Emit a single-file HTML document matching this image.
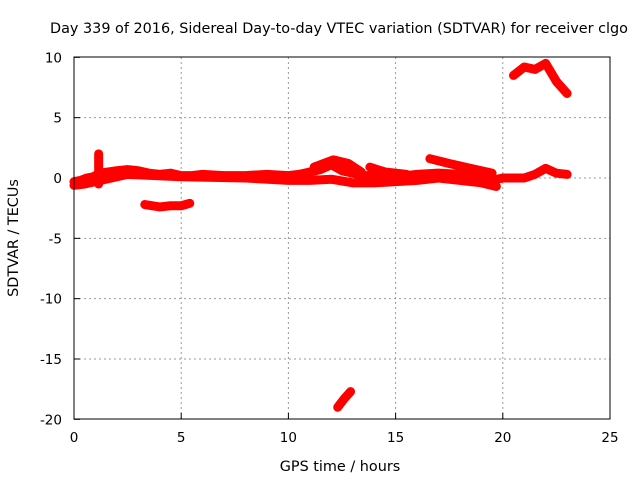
<!DOCTYPE html>
<html><head><meta charset="utf-8"><style>
body{margin:0;background:#fff;}
svg{display:block;font-family:"DejaVu Sans","Liberation Sans",sans-serif;}
</style></head><body>
<svg id="chart" width="640" height="480">
<text x="339" y="33" font-size="14.4" text-anchor="middle">Day 339 of 2016, Sidereal Day-to-day VTEC variation (SDTVAR) for receiver clgo</text>
<text x="340" y="471" font-size="14.4" text-anchor="middle">GPS time / hours</text>
<text transform="translate(18,238) rotate(-90)" font-size="14.4" text-anchor="middle">SDTVAR / TECUs</text>
<g id="grid"></g><g id="marks"></g>
<rect x="74" y="57" width="536" height="362" fill="none" stroke="#000" stroke-width="1"/>
</svg>
<script>
const xTicks=[0,5,10,15,20,25];
const yTicks=[10,5,0,-5,-10,-15,-20];
const segMain=[[0,-0.3],[0.3,-0.2],[0.6,0],[0.9,0.1],[1.2,0.4],[1.6,0.5],[2,0.6],[2.5,0.7],[3,0.6],[3.5,0.4],[4,0.3],[4.5,0.4],[5,0.2],[5.5,0.2],[6,0.3],[7,0.2],[8,0.2],[9,0.3],[10,0.2],[10.5,0.3],[11,0.5],[11.5,0.7],[12,1.1],[12.5,0.6],[13,0.4],[13.5,0.2],[14,0.2],[15,0.1],[16,0.3],[17,0.4],[18,0.3],[19,0.1],[19.5,-0.2],[20,0],[20.5,0],[21,0],[21.5,0.3],[22,0.8],[22.5,0.4],[23,0.3]];
const segLower=[[0,-0.6],[0.5,-0.5],[2.5,0.3],[5,0.1],[8,0],[10,-0.2],[11,-0.2],[12,-0.1],[13,-0.4],[14,-0.4],[15,-0.3],[16,-0.2],[17,0],[18,-0.2],[19,-0.4],[19.7,-0.7]];
const segUpper1=[[16.6,1.6],[17.5,1.2],[18.5,0.8],[19.5,0.4]];
const segUpper2=[[11.2,0.9],[12.1,1.5],[12.8,1.2],[13.4,0.5]];
const segUpper3=[[13.8,0.9],[14.5,0.5],[15.5,0.3]];
const segLow5=[[3.3,-2.2],[4,-2.4],[4.5,-2.3],[5,-2.3],[5.4,-2.1]];
const segHigh=[[20.5,8.5],[21,9.2],[21.5,9],[22,9.5],[22.5,8],[23,7]];
const segMin=[[12.3,-19],[12.6,-18.3],[12.9,-17.7]];
const segSpike=[[1.15,-0.5],[1.15,0.8],[1.15,2]];
const segments=[segMain,segLower,segUpper1,segUpper2,segUpper3,segLow5,segHigh,segMin,segSpike];
const X=v=>74+v*536/25, Y=v=>178-v*362/30;
const NS="http://www.w3.org/2000/svg";
const grid=document.getElementById('grid'), marks=document.getElementById('marks');
function mk(t,a,p){const e=document.createElementNS(NS,t);for(const k in a)e.setAttribute(k,a[k]);p.appendChild(e);return e;}
xTicks.forEach(t=>{
 if(t>0&&t<25){const l=mk('line',{x1:X(t),x2:X(t),y1:57,y2:419,stroke:'#999','stroke-dasharray':'2,3'},grid);
 
 }
 const tk=mk('line',{x1:X(t),x2:X(t),y1:419,y2:413,stroke:'#000'},grid);
 
 
 const tx=mk('text',{x:X(t),y:442,'font-size':13.5,'text-anchor':'middle'},grid);tx.textContent=t;
 
 
});
yTicks.forEach(t=>{
 if(t<10&&t>-20){const l=mk('line',{x1:74,x2:610,y1:Y(t),y2:Y(t),stroke:'#999','stroke-dasharray':'2,3'},grid);
 
 }
 const tk=mk('line',{x1:74,x2:80,y1:Y(t),y2:Y(t),stroke:'#000'},grid);
 
 
 const tx=mk('text',{x:62,y:Y(t)+5,'font-size':13.5,'text-anchor':'end'},grid);tx.textContent=t;
 
 
});
segments.forEach(s=>{
 const pl=mk('polyline',{points:s.map(p=>X(p[0])+','+Y(p[1])).join(' '),fill:'none',stroke:'#f00','stroke-width':9,'stroke-linejoin':'round','stroke-linecap':'round'},marks);
 
 
 s.forEach(p=>{
  const m=mk('path',{d:`M${X(p[0])-4},${Y(p[1])}h8M${X(p[0])},${Y(p[1])-4}v8`,stroke:'#f00','stroke-width':1.5},marks);
  
  
 });
});
</script>
</body></html>
